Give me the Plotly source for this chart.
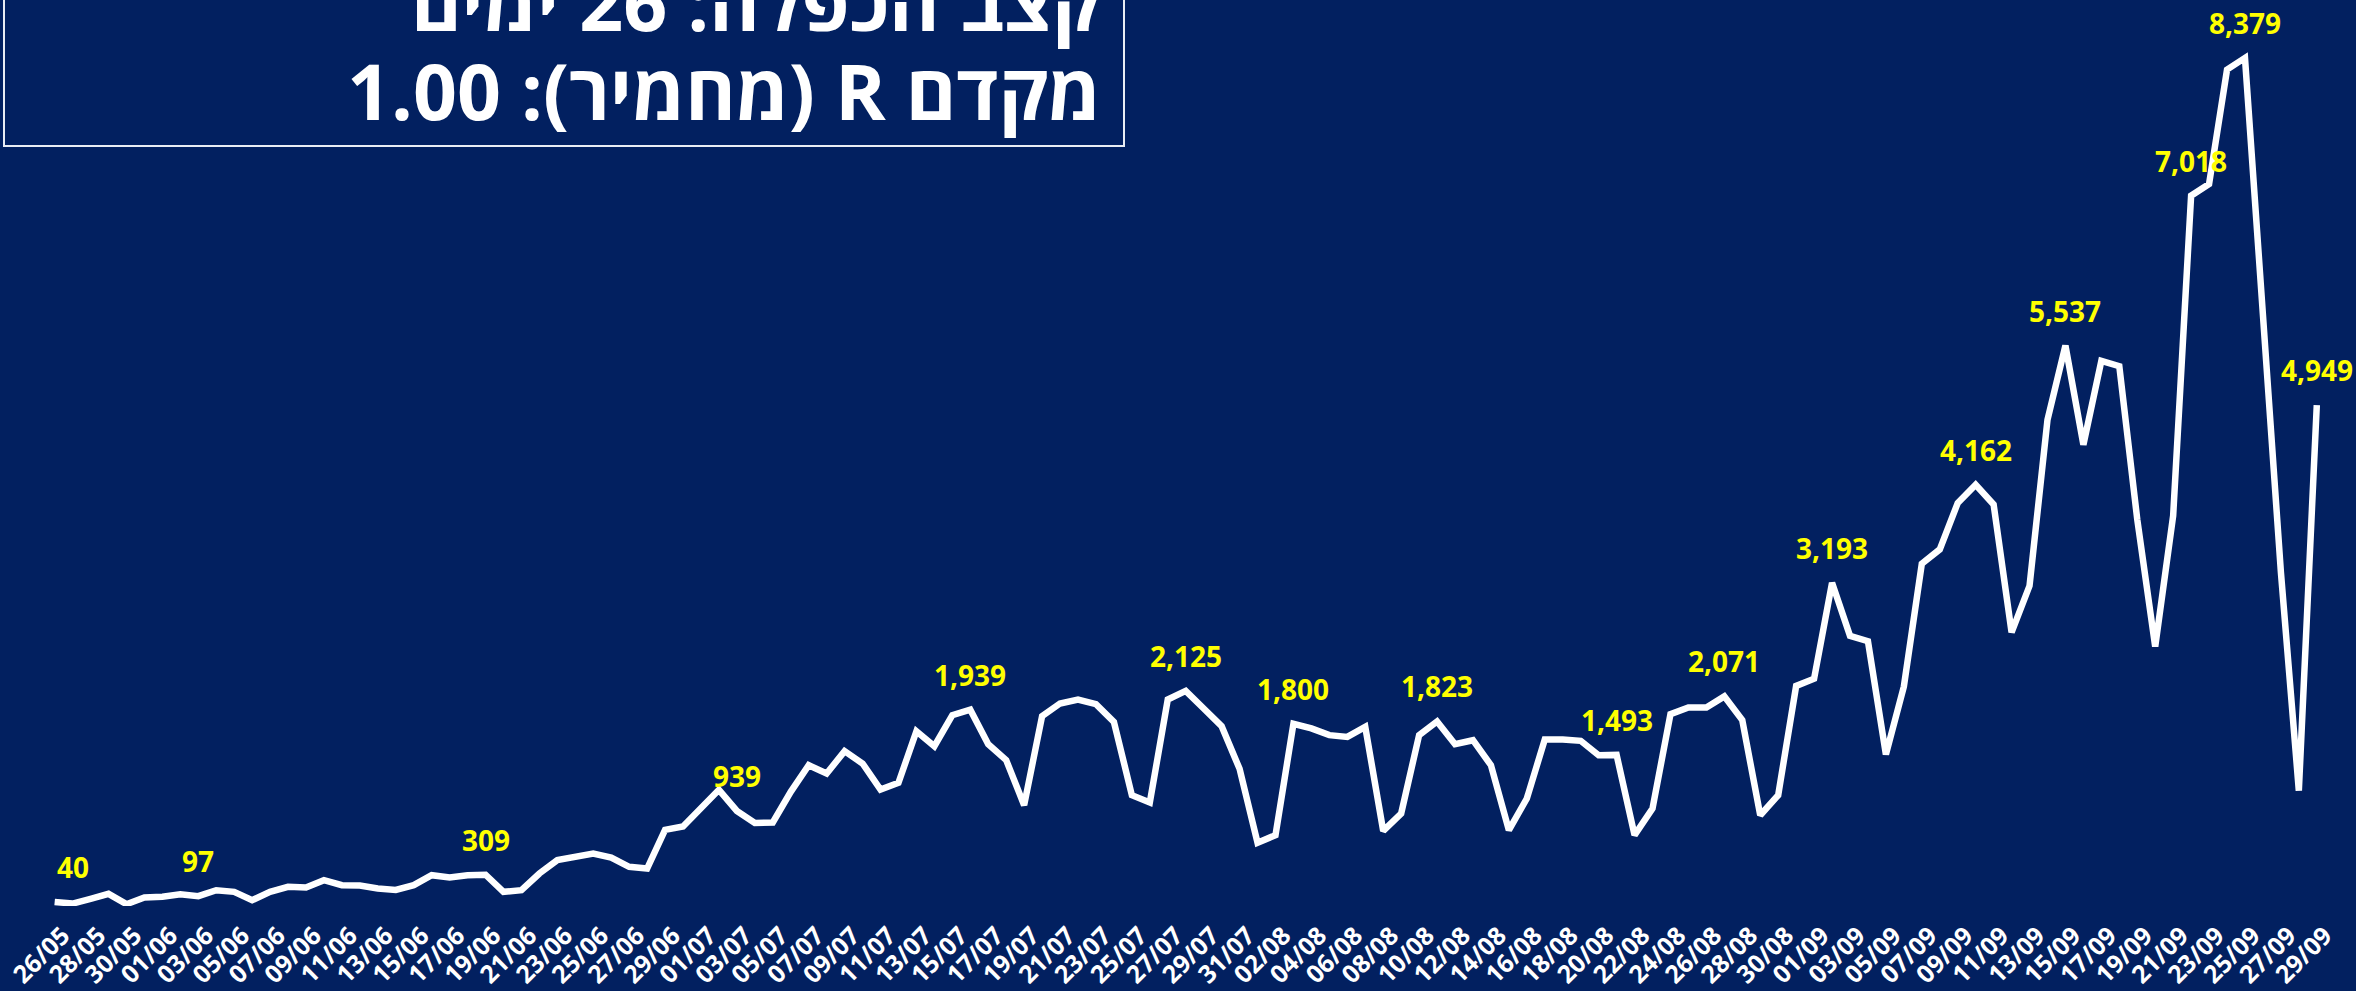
import pandas as pd
import plotly.graph_objects as go

# ---- data ----
dates = [d.strftime("%d/%m") for d in pd.date_range("2020-05-26", "2020-09-29", freq="D")]

cases = [
    40, 24, 70, 120, 18, 84, 92, 115, 97, 156,
    140, 57, 140, 189, 182, 255, 206, 202, 173, 158,
    206, 304, 281, 304, 309, 140, 156, 321, 453, 485,
    518, 478, 387, 370, 752, 785, 963, 1148, 939, 821,
    825, 1128, 1391, 1309, 1530, 1408, 1151, 1217, 1727, 1579,
    1885, 1939, 1599, 1441, 996, 1876, 2001, 2040, 1994, 1819,
    1095, 1022, 2040, 2125, 1951, 1777, 1355, 624, 700, 1800,
    1754, 1688, 1671, 1770, 742, 914, 1688, 1823, 1599, 1638,
    1391, 749, 1062, 1645, 1645, 1632, 1490, 1493, 700, 963,
    1895, 1961, 1961, 2071, 1836, 897, 1095, 2174, 2245, 3193,
    2669, 2616, 1497, 2168, 3381, 3523, 3981, 4162, 3967, 2704,
    3163, 4804, 5537, 4557, 5386, 5333, 3820, 2563, 3857, 7018,
    7133, 8263, 8379, 5800, 3300, 1140, 4949,
]

label_dates = ["26/05", "03/06", "19/06", "03/07", "16/07", "28/07", "03/08", "11/08",
               "21/08", "27/08", "02/09", "10/09", "15/09", "22/09", "25/09", "29/09"]

tick_labels = dates[::2]

title_line1 = "קצב הכפלה: 26 ימים"
title_line2 = "מקדם R (מחמיר): 1.00"

# ---- figure ----
BG = "#022060"
W, H = 2356, 991
ML, MR, MT, MB = 20, 20, 0, 85
PW, PH = W - ML - MR, H - MT - MB

fig = go.Figure()
fig.add_trace(go.Scatter(
    x=dates, y=cases, mode="lines",
    line=dict(color="white", width=6.5),
    hoverinfo="skip",
))

annotations = []
for d in label_dates:
    i = dates.index(d)
    annotations.append(dict(
        x=d, y=cases[i], xref="x", yref="y",
        text=f"{cases[i]:,}", showarrow=False,
        yshift=35, xshift=18 if i == 0 else 0,
        font=dict(family="Open Sans", size=28, color="#FFFF00", weight="bold"),
    ))

def px_to_paper_x(px):
    return (px - ML) / PW

def px_to_paper_y(py):
    return 1 - (py - MT) / PH

RLE, PDF = "\u202b", "\u202c"
for txt, ycen in [(title_line1, 1), (title_line2, 91)]:
    annotations.append(dict(
        x=px_to_paper_x(1103), y=px_to_paper_y(ycen), xref="paper", yref="paper",
        xanchor="right", yanchor="middle", showarrow=False,
        text=RLE + txt + PDF,
        font=dict(family="Open Sans", size=77, color="white", weight="bold"),
    ))

fig.add_shape(
    type="rect", xref="paper", yref="paper",
    x0=px_to_paper_x(4), x1=px_to_paper_x(1124),
    y0=px_to_paper_y(146), y1=px_to_paper_y(-20),
    line=dict(color="#E8ECF4", width=2), fillcolor="rgba(0,0,0,0)",
)

fig.update_layout(
    width=W, height=H,
    margin=dict(l=ML, r=MR, t=MT, b=MB, autoexpand=False),
    paper_bgcolor=BG, plot_bgcolor=BG,
    showlegend=False,
    annotations=annotations,
)
fig.update_xaxes(
    type="category", range=[-1.93, 127.07],
    tickmode="array", tickvals=tick_labels, ticktext=tick_labels,
    tickangle=-45, ticklabelstandoff=9, ticklabelshift=8,
    tickfont=dict(family="Open Sans", size=25, color="white", weight="bold"),
    showgrid=False, zeroline=False, showline=False, ticks="", automargin=False,
)
fig.update_yaxes(range=[0, 8951], visible=False, showgrid=False, zeroline=False)

fig.write_html(
    "out.html",
    config={"displayModeBar": False},
    post_script="document.body.style.margin='0';document.body.style.overflow='hidden';",
)
